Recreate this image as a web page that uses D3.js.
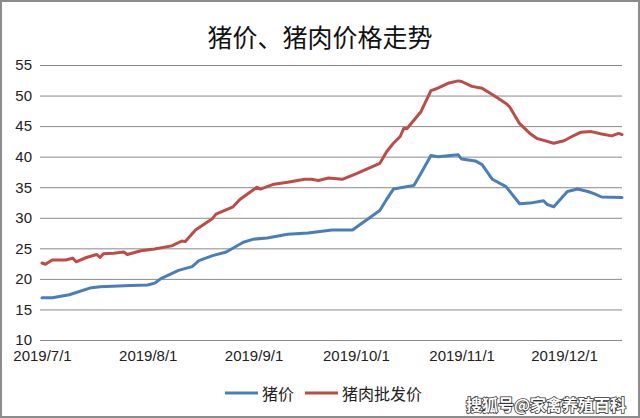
<!DOCTYPE html>
<html><head><meta charset="utf-8">
<script src="https://cdn.jsdelivr.net/npm/d3@7/dist/d3.min.js"></script>
<style>
html,body{margin:0;padding:0;background:#fff;}
svg{display:block;}
</style></head>
<body>
<svg id="c" width="640" height="418"></svg>
<script>
const title = "猪价、猪肉价格走势";
const seriesNames = ["猪价", "猪肉批发价"];
const seriesColors = ["#4A7EBB", "#BE4B48"];
const yTicks = [10, 15, 20, 25, 30, 35, 40, 45, 50, 55];
const xTickDates = ["2019-07-01", "2019-08-01", "2019-09-01", "2019-10-01", "2019-11-01", "2019-12-01"];
const watermark = "搜狐号@家禽养殖百科";

const hogDates = ["2019-07-01","2019-07-04","2019-07-09","2019-07-15","2019-07-18","2019-07-27","2019-08-01","2019-08-03","2019-08-05","2019-08-10","2019-08-14","2019-08-16","2019-08-20","2019-08-24","2019-08-29","2019-09-01","2019-09-05","2019-09-11","2019-09-17","2019-09-24","2019-09-30","2019-10-04","2019-10-08","2019-10-10","2019-10-12","2019-10-18","2019-10-20","2019-10-23","2019-10-25","2019-10-31","2019-11-01","2019-11-05","2019-11-07","2019-11-10","2019-11-14","2019-11-18","2019-11-21","2019-11-25","2019-11-26","2019-11-28","2019-12-02","2019-12-05","2019-12-08","2019-12-10","2019-12-12","2019-12-18"];
const hogValues = [16.9,16.9,17.4,18.5,18.7,18.9,19.0,19.3,20.1,21.4,22.0,23.0,23.8,24.4,26.0,26.5,26.7,27.3,27.5,28.0,28.0,29.6,31.2,33.0,34.7,35.3,37.2,40.2,40.0,40.3,39.6,39.3,38.7,36.3,35.1,32.3,32.4,32.8,32.2,31.8,34.3,34.7,34.3,33.9,33.4,33.3];

const porkDates = ["2019-07-01","2019-07-02","2019-07-04","2019-07-08","2019-07-10","2019-07-11","2019-07-14","2019-07-17","2019-07-18","2019-07-19","2019-07-22","2019-07-25","2019-07-26","2019-07-30","2019-08-03","2019-08-08","2019-08-11","2019-08-12","2019-08-15","2019-08-20","2019-08-21","2019-08-26","2019-08-28","2019-09-02","2019-09-03","2019-09-07","2019-09-11","2019-09-16","2019-09-18","2019-09-20","2019-09-23","2019-09-27","2019-10-01","2019-10-08","2019-10-10","2019-10-12","2019-10-14","2019-10-15","2019-10-16","2019-10-20","2019-10-23","2019-10-25","2019-10-28","2019-10-31","2019-11-01","2019-11-04","2019-11-07","2019-11-11","2019-11-14","2019-11-15","2019-11-18","2019-11-21","2019-11-23","2019-11-28","2019-12-01","2019-12-04","2019-12-06","2019-12-09","2019-12-12","2019-12-15","2019-12-17","2019-12-18"];
const porkValues = [22.6,22.4,23.1,23.1,23.4,22.8,23.5,24.0,23.5,24.1,24.2,24.4,24.0,24.6,24.9,25.4,26.2,26.1,28.0,29.9,30.6,31.8,33.0,35.0,34.7,35.5,35.8,36.3,36.3,36.1,36.5,36.3,37.2,38.9,40.8,42.2,43.3,44.6,44.6,47.3,50.8,51.2,52.0,52.4,52.3,51.5,51.2,49.8,48.7,48.2,45.4,43.8,43.0,42.2,42.6,43.5,44.0,44.1,43.7,43.4,43.8,43.6];

const parse = d3.timeParse("%Y-%m-%d");
const svg = d3.select("#c");
const W = 640, H = 418;

svg.append("rect").attr("x",1).attr("y",1).attr("width",W-2).attr("height",H-2)
  .attr("fill","#fff").attr("stroke","#8c8c8c").attr("stroke-width",2);

const x = d3.scaleTime().domain([parse("2019-07-01"), parse("2019-12-01")]).range([42, 564]);
const y = d3.scaleLinear().domain([10, 55]).range([340, 65]);
const gridL = 40, gridR = 622;

// title
svg.append("text").attr("x", 320).attr("y", 36).attr("text-anchor","middle")
  .attr("dominant-baseline","central")
  .style("font-family","'Noto Sans CJK SC'").style("font-size","25px").style("font-weight","400")
  .attr("fill","#111").text(title);

// y axis with gridlines
const yAxis = d3.axisLeft(y).tickValues(yTicks).tickSize(-(gridR-gridL)).tickPadding(8).tickFormat(d3.format("d"));
const gy = svg.append("g").attr("transform",`translate(${gridL},0)`).call(yAxis);
gy.select(".domain").remove();
gy.selectAll(".tick line").attr("stroke","#8a8a8a").attr("stroke-width",1);
gy.selectAll(".tick text").attr("fill","#222").style("font-family","'Liberation Sans', Arial, sans-serif").style("font-size","15px");

// x axis labels
const xAxis = d3.axisBottom(x).tickValues(xTickDates.map(parse)).tickSize(0).tickPadding(10)
  .tickFormat(d3.timeFormat("%Y/%-m/%-d"));
const gx = svg.append("g").attr("transform",`translate(0,340)`).call(xAxis);
gx.select(".domain").remove();
gx.selectAll(".tick text").attr("fill","#222").style("font-family","'Liberation Sans', Arial, sans-serif").style("font-size","15px");

// lines
const line = d3.line().x(d => x(d[0])).y(d => y(d[1]));
const hog = hogDates.map((d,i) => [parse(d), hogValues[i]]);
const pork = porkDates.map((d,i) => [parse(d), porkValues[i]]);
[hog, pork].forEach((s, i) => {
  svg.append("path").datum(s).attr("d", line).attr("fill","none")
    .attr("stroke", seriesColors[i]).attr("stroke-width", 3)
    .attr("stroke-linejoin","round").attr("stroke-linecap","round");
});

// legend
const legendItems = [{x:225, w:33}, {x:305, w:33}];
const lg = svg.append("g");
seriesNames.forEach((n, i) => {
  const lx = legendItems[i].x;
  lg.append("line").attr("x1", lx).attr("x2", lx + legendItems[i].w).attr("y1", 393).attr("y2", 393)
    .attr("stroke", seriesColors[i]).attr("stroke-width", 3);
  lg.append("text").attr("x", lx + legendItems[i].w + 4).attr("y", 393).attr("dominant-baseline","central")
    .style("font-family","'Noto Sans CJK SC'").style("font-size","16px").attr("fill","#222").text(n);
});

// watermark
svg.append("text").attr("x", 626).attr("y", 404).attr("text-anchor","end").attr("dominant-baseline","central")
  .style("font-family","'Noto Sans CJK SC'").style("font-size","16px").style("font-weight","700")
  .attr("fill","#fff").attr("stroke","#333").attr("stroke-width",1.6).attr("paint-order","stroke")
  .text(watermark);
</script>
</body></html>
